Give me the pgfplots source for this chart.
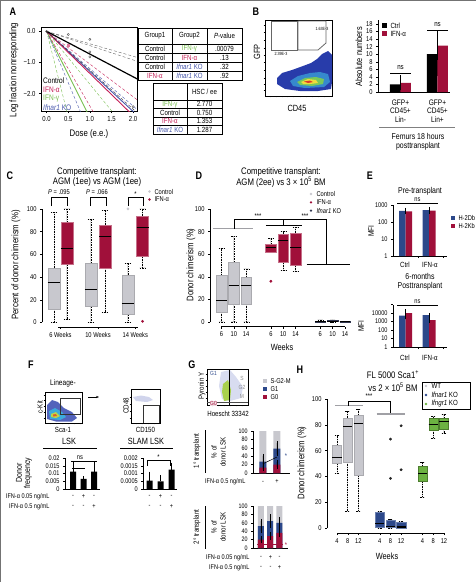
\documentclass[border=0pt]{standalone}
\usepackage{fontspec}
\setmainfont{Liberation Sans}[FakeStretch=0.82]
\usepackage{pgfplots}
\pgfplotsset{compat=1.18}
\usepgfplotslibrary{statistics}
\usetikzlibrary{arrows.meta}
\definecolor{cred}{RGB}{160,16,58}
\definecolor{cblue}{RGB}{44,72,138}
\definecolor{cgray}{RGB}{200,200,206}
\definecolor{cgreen}{RGB}{108,178,66}
\definecolor{cko}{RGB}{50,55,80}
\definecolor{agreen}{RGB}{120,190,80}
\definecolor{ared}{RGB}{196,30,86}
\definecolor{ablue}{RGB}{70,86,170}
\definecolor{fblue}{RGB}{40,60,170}
\definecolor{fcyan}{RGB}{60,170,220}
\definecolor{fgreen}{RGB}{120,200,90}
\definecolor{fyellow}{RGB}{240,220,60}
\definecolor{fred}{RGB}{220,60,40}
\newcommand{\fs}[1]{\fontsize{#1}{#1}\selectfont}
\pgfplotsset{
  every axis/.append style={scale only axis, tick align=outside,
    /pgf/number format/assume math mode=true, major tick length=2pt, scaled ticks=false,
    tick style={black,line width=0.4pt}, axis line style={line width=0.5pt}, clip=false, font=\fs{6.8}},
  pos/.style n args={4}{at={(#1pt,-#2pt)},anchor=south west,width=#3pt,height=#4pt},
  rax/.style={axis line style={draw=none}, xtick pos=left, ytick pos=left, ytick={0,20,40,60,80,100}, ymin=-4, ymax=104},
  boxplot/draw direction=y,
  boxplot/every whisker/.style={black, dash pattern=on 1.5pt off 1pt, line width=0.45pt},
  boxplot/every median/.style={black, line width=1.1pt},
  eb/.style={error bars/y dir=both, error bars/y explicit, error bars/error bar style={black, line width=0.4pt}, error bars/error mark options={black, mark size=1.8pt, line width=0.4pt}},
  ebp/.style={error bars/y dir=plus, error bars/y explicit, error bars/error bar style={black, line width=0.4pt}, error bars/error mark options={black, mark size=1.8pt, line width=0.4pt}},
  flow/.style={xticklabels={}, yticklabels={}, major tick length=1.3pt, xtick pos=left, ytick pos=left, axis line style={line width=0.5pt}},
}
\begin{document}
\begin{tikzpicture}
\path[use as bounding box] (0pt,0pt) rectangle (476pt,-582pt);
\draw[black!55, line width=1pt] (0pt,0pt) rectangle (476pt,-582pt);

% ================= A =================
\begin{axis}[pos={41}{111}{96}{84}, clip=true, font=\fs{7.3}, xmin=-0.13,xmax=2.09,ymin=-2.56,ymax=0.14,
  xtick={0,0.5,1,1.5,2}, xticklabels={0.0,0.5,1.0,1.5,2.0}, ytick={0,-1,-2}, yticklabels={0.0,−1.0,−2.0},
  xtick pos=left, ytick pos=left, axis line style={line width=0.6pt}]
\addplot[agreen, densely dashed, line width=0.4pt] coordinates {(0,0) (1,-5.5)};
\addplot[agreen, densely dashed, line width=0.4pt] coordinates {(0,0) (2,-3.4)};
\addplot[agreen, line width=0.9pt] coordinates {(0,0) (1,-2.77)};
\addplot[ablue, densely dashed, line width=0.4pt] coordinates {(0,0) (1,-3.3)};
\addplot[ablue, densely dashed, line width=0.4pt] coordinates {(0,0) (2.2,-2.64)};
\addplot[ablue, line width=0.9pt] coordinates {(0,0) (2.2,-2.83)};
\addplot[ared, densely dashed, line width=0.4pt] coordinates {(0,0) (1.2,-2.88)};
\addplot[ared, densely dashed, line width=0.4pt] coordinates {(0,0) (2.2,-2.31)};
\addplot[ared, line width=0.9pt] coordinates {(0,0) (2.2,-2.977)};
\addplot[black!60, densely dashed, line width=0.4pt] coordinates {(0,0) (2.2,-0.88)};
\addplot[black!60, densely dashed, line width=0.4pt] coordinates {(0,0) (2.2,-1.01)};
\addplot[black!80, densely dashed, line width=0.4pt] coordinates {(0,0) (2.2,-2.75)};
\addplot[black, line width=1.2pt] coordinates {(0,0) (2.2,-1.606)};
\addplot[only marks, mark=o, mark size=1.1pt, black!70] coordinates {(0.5,-0.1) (1,-0.26) (1,-0.66) (1,-0.82) (2,-2.42) (0,0)};
\addplot[only marks, mark=square*, mark size=0.8pt, ared!60] coordinates {(0.5,-0.45)};
\end{axis}

% ================= B flow =================
\begin{axis}[pos={265}{96}{67}{76}, flow, xmin=265,xmax=332,ymin=-96,ymax=-20,
  xtick={270,276,282,287,293,300,306,312,318,324}, ytick={-90,-84,-78,-70,-62,-55,-48,-40,-32,-25}]
\addplot[fill=fblue, draw=none] coordinates {(277,-78) (282,-73) (292,-70) (303,-66) (311,-63) (317,-59) (322,-54) (328,-51) (332,-55) (332,-70) (332,-82) (331,-89) (318,-91) (300,-91) (285,-89) (277,-84)} -- cycle;
\addplot[fill=fcyan!70!fblue, draw=none] coordinates {(290,-81) (298,-76) (310,-73) (320,-72) (328,-74) (330,-82) (324,-87) (305,-88) (293,-86)} -- cycle;
\addplot[fill=fgreen, draw=none] coordinates {(297,-82) (305,-78) (316,-77) (324,-79) (323,-84) (312,-86) (300,-85)} -- cycle;
\addplot[fill=fyellow, draw=none] coordinates {(301,-82) (308,-79) (316,-80) (318,-83) (310,-84) (303,-84)} -- cycle;
\addplot[fill=fred, draw=none] coordinates {(304,-81.5) (310,-80.5) (313,-82) (308,-83)} -- cycle;
\addplot[draw=black!60, line width=0.8pt] coordinates {(271,-21) (297,-21) (297,-50) (271,-50)} -- cycle;
\addplot[draw=black!60, line width=0.8pt] coordinates {(298,-21) (326,-21) (326,-43) (318,-50) (298,-50)} -- cycle;
\end{axis}

% ================= B bars =================
\begin{axis}[pos={378}{92}{72}{71.8}, ymin=0,ymax=19, xmin=0.392,xmax=2.338, axis x line*=bottom, axis y line*=left,
  ytick={0,2,...,18}, xtick=\empty, font=\fs{7}]
\addplot[ybar, bar width=10.5pt, bar shift=-5.25pt, fill=black, draw=none, eb] coordinates {(1,2.0) +- (0,1.8) (2,10.0) +- (0,5.3)};
\addplot[ybar, bar width=10.5pt, bar shift=5.25pt, fill=cred, draw=none, eb] coordinates {(1,2.4) +- (0,1.5) (2,12.3) +- (0,3.3)};
\end{axis}

% ================= C =================
\begin{axis}[pos={42}{327}{108}{122.6}, rax, xmin=0.111, xmax=8.11, xtick={1.48,4.26,7.02},
  xticklabels={6 Weeks,10 Weeks,14 Weeks}, font=\fs{7}]
\draw[line width=0.5pt] (axis cs:0.111,0) -- (axis cs:0.111,100);
\draw[line width=0.5pt] (axis cs:1.3,-4) -- (axis cs:7.2,-4);
\addplot[boxplot prepared={draw position=1, lower whisker=0, lower quartile=12, median=35, upper quartile=48, upper whisker=97, box extend=0.89, whisker extend=0.45}, fill=cgray, draw=cgray!85!black] coordinates {};
\addplot[boxplot prepared={draw position=1.96, lower whisker=3, lower quartile=51, median=65, upper quartile=88, upper whisker=100, box extend=0.89, whisker extend=0.45}, fill=cred, draw=cred!60!white] coordinates {};
\addplot[boxplot prepared={draw position=3.74, lower whisker=0, lower quartile=14, median=29, upper quartile=52, upper whisker=91, box extend=0.89, whisker extend=0.45}, fill=cgray, draw=cgray!85!black] coordinates {};
\addplot[boxplot prepared={draw position=4.78, lower whisker=9, lower quartile=48, median=76, upper quartile=86, upper whisker=99, box extend=0.89, whisker extend=0.45}, fill=cred, draw=cred!60!white] coordinates {};
\addplot[boxplot prepared={draw position=6.48, lower whisker=0, lower quartile=7, median=17, upper quartile=42, upper whisker=52, box extend=0.89, whisker extend=0.45}, fill=cgray, draw=cgray!85!black] coordinates {};
\addplot[boxplot prepared={draw position=7.56, lower whisker=48, lower quartile=58, median=84, upper quartile=94, upper whisker=100, box extend=0.89, whisker extend=0.45}, fill=cred, draw=cred!60!white] coordinates {};
\addplot[only marks, mark=*, mark size=1.2pt, cgray] coordinates {(6.48,100)};
\addplot[only marks, mark=*, mark size=1.2pt, cred] coordinates {(7.56,1)};
\end{axis}

% ================= D =================
\begin{axis}[pos={210}{326.5}{142}{122}, rax, xmin=0.07, xmax=11.57, xtick={1,2,3,5,6,7,9,10,11},
  xticklabels={6,10,14,6,10,14,6,10,14}, font=\fs{7}]
\draw[line width=0.5pt] (axis cs:0.07,0) -- (axis cs:0.07,100);
\draw[line width=0.5pt] (axis cs:1,-4) -- (axis cs:11,-4);
\addplot[boxplot prepared={draw position=1, lower whisker=0, lower quartile=9, median=19, upper quartile=41, upper whisker=65, box extend=0.85, whisker extend=0.42}, fill=cgray, draw=cgray!85!black] coordinates {};
\addplot[boxplot prepared={draw position=2, lower whisker=0, lower quartile=16, median=32, upper quartile=53, upper whisker=76, box extend=0.85, whisker extend=0.42}, fill=cgray, draw=cgray!85!black] coordinates {};
\addplot[boxplot prepared={draw position=3, lower whisker=0, lower quartile=16, median=32, upper quartile=39.5, upper whisker=47, box extend=0.85, whisker extend=0.42}, fill=cgray, draw=cgray!85!black] coordinates {};
\addplot[boxplot prepared={draw position=5, lower whisker=62, lower quartile=62, median=66, upper quartile=68.5, upper whisker=74, box extend=0.85, whisker extend=0.42}, fill=cred, draw=cred!60!white] coordinates {};
\addplot[boxplot prepared={draw position=6, lower whisker=45.7, lower quartile=52.5, median=72.3, upper quartile=77.3, upper whisker=80, box extend=0.85, whisker extend=0.42}, fill=cred, draw=cred!60!white] coordinates {};
\addplot[boxplot prepared={draw position=7, lower whisker=45, lower quartile=50, median=66, upper quartile=78.8, upper whisker=84, box extend=0.85, whisker extend=0.42}, fill=cred, draw=cred!60!white] coordinates {};
\addplot[boxplot prepared={draw position=9, lower whisker=0, lower quartile=0.2, median=0.5, upper quartile=1.0, upper whisker=1.8, box extend=0.85, whisker extend=0.42}, fill=cko, draw=cko] coordinates {};
\addplot[boxplot prepared={draw position=10, lower whisker=0, lower quartile=0.3, median=0.6, upper quartile=1.2, upper whisker=2, box extend=0.85, whisker extend=0.42}, fill=cko, draw=cko] coordinates {};
\addplot[boxplot prepared={draw position=11, lower whisker=0, lower quartile=0.1, median=0.3, upper quartile=0.5, upper whisker=0.8, box extend=0.85, whisker extend=0.42}, fill=cko, draw=cko] coordinates {};
\addplot[only marks, mark=*, mark size=1.2pt, cred] coordinates {(5,36)};
\draw[cgray!80!black, line width=1.1pt] (axis cs:0.31,82.6) -- (axis cs:3.55,82.6);
\draw[line width=0.6pt] (axis cs:2,82.6) -- (axis cs:2,90.6) -- (axis cs:9.5,90.6) -- (axis cs:9.5,50.8);
\draw[line width=0.6pt] (axis cs:6,90.6) -- (axis cs:6,86);
\draw[line width=0.6pt] (axis cs:4.6,86) -- (axis cs:7.5,86);
\draw[line width=0.6pt] (axis cs:7.9,50.8) -- (axis cs:11.4,50.8);
\node[font=\fs{7}] at (axis cs:3.95,93.5) {***};
\node[font=\fs{7}] at (axis cs:7.76,93.5) {***};
\end{axis}

% ================= E =================
\begin{axis}[pos={393}{256}{54}{51}, ymode=log, ymin=1, ymax=1000, xmin=0.468, xmax=2.766,
  axis x line*=bottom, axis y line*=left, ytick={1,10,100,1000}, yticklabels={1,10,100,1000}, yminorticks=false,
  xtick={1.55,2.6}, xticklabels={}, font=\fs{6.8}]
\addplot[ybar, bar width=6.5pt, bar shift=-3.25pt, fill=cblue, draw=none, eb] coordinates {(1,450) +- (0,90) (2,500) +- (0,110)};
\addplot[ybar, bar width=6.5pt, bar shift=3.25pt, fill=cred, draw=none, eb] coordinates {(1,420) +- (0,40) (2,460) +- (0,60)};
\end{axis}
\begin{axis}[pos={393}{347}{54}{42.5}, ymode=log, ymin=1, ymax=100000, xmin=0.468, xmax=2.766,
  axis x line*=bottom, axis y line*=left, ytick={1,10,100,1000,10000,100000}, yticklabels={1,10,100,1000,10000,}, yminorticks=false,
  xtick={1.55,2.6}, xticklabels={}, font=\fs{6.8}]
\addplot[ybar, bar width=6.5pt, bar shift=-3.25pt, fill=cblue, draw=none, eb] coordinates {(1,5000) +- (0,800) (2,5500) +- (0,700)};
\addplot[ybar, bar width=6.5pt, bar shift=3.25pt, fill=cred, draw=none, eb] coordinates {(1,10000) +- (0,7000) (2,1500) +- (0,300)};
\end{axis}

% ================= F flows =================
\begin{axis}[pos={45}{423}{37}{31}, flow, xmin=45,xmax=82,ymin=-423,ymax=-392,
  xtick={50,56,62,68,74,80}, ytick={-418,-412,-406,-400,-395}]
\addplot[fill=fblue!80, draw=none] coordinates {(47,-405) (52,-400) (58,-402) (64,-408) (72,-412) (77,-418) (72,-421.5) (56,-421.5) (47,-419)} -- cycle;
\addplot[fill=fcyan, draw=none] coordinates {(49,-411) (55,-408) (62,-412) (66,-417) (60,-420) (50,-419)} -- cycle;
\addplot[fill=fyellow!60!fgreen, draw=none] coordinates {(51,-414) (56,-412) (60,-416) (56,-418) (51,-417)} -- cycle;
\addplot[fill=fred!80!fyellow, draw=none] coordinates {(53,-414.5) (56,-414) (57,-416) (53,-416.5)} -- cycle;
\addplot[draw=black!80, line width=0.9pt] coordinates {(60,-398) (80,-398) (80,-414) (60,-414)} -- cycle;
\end{axis}
\begin{axis}[pos={131}{423}{29}{34}, flow, xmin=131,xmax=160,ymin=-423,ymax=-389,
  xtick={136,142,148,154}, ytick={-418,-411,-404,-397}]
\addplot[fill=fblue!22, draw=none] coordinates {(133,-397) (141,-395.5) (149,-397) (153,-400) (147,-402) (136,-401)} -- cycle;
\addplot[draw=black!80, line width=0.9pt] coordinates {(143,-423) (143,-405) (159,-405) (159,-423)};
\end{axis}

% ================= F bars =================
\begin{axis}[pos={65}{489}{35}{31}, ymin=0,ymax=0.02, xmin=0.238,xmax=3.57, axis x line*=bottom, axis y line*=left,
  ytick={0,0.005,0.01,0.015,0.02}, yticklabels={0,0.005,0.01,0.015,0.02}, xtick=\empty, font=\fs{6.8}]
\addplot[ybar, bar width=6pt, bar shift=0pt, fill=black, draw=none, ebp] coordinates {(1,0.0112) +- (0,0.0054) (2,0.0065) +- (0,0.0007) (3,0.0112) +- (0,0.0048)};
\end{axis}
\begin{axis}[pos={143.3}{489}{33.7}{31}, ymin=0,ymax=0.002, xmin=0.436,xmax=3.5, axis x line*=bottom, axis y line*=left,
  ytick={0,0.0005,0.001,0.0015,0.002}, yticklabels={0,0.0005,0.001,0.0015,0.002}, xtick=\empty, font=\fs{6.8}]
\addplot[ybar, bar width=6pt, bar shift=0pt, fill=black, draw=none, ebp] coordinates {(1,0.00054) +- (0,0.00047) (2,0.0005) +- (0,0.00029) (3,0.00125) +- (0,0.00034)};
\end{axis}

% ================= G flow =================
\begin{axis}[pos={207}{405}{41}{36}, flow, xmin=207,xmax=248,ymin=-405,ymax=-369,
  xtick={212,218,224,230,236,242}, ytick={-398,-392,-386,-380,-374}]
\addplot[fill=fblue!18, draw=none] coordinates {(221,-372) (230,-370) (236,-377) (243,-387) (241,-398) (230,-401) (222,-399) (219,-386)} -- cycle;
\addplot[fill=fgreen!60!fyellow, draw=none] coordinates {(223,-384) (228,-380) (231,-390) (230,-400) (224,-401) (222,-392)} -- cycle;
\addplot[black, line width=0.8pt] coordinates {(229,-405) (229,-369)};
\addplot[black!70, line width=0.8pt] coordinates {(207,-402) (248,-402)};
\end{axis}

% ================= G bars 1 =================
\begin{axis}[pos={253}{473}{37}{42}, ymin=0,ymax=100, xmin=0.286,xmax=2.93, axis x line*=bottom, axis y line*=left,
  ytick={0,20,...,100}, xtick=\empty, font=\fs{6.5}]
\addplot[ybar, bar width=7pt, bar shift=0pt, fill=cgray, draw=none] coordinates {(1,100) (2,100)};
\addplot[ybar, bar width=7pt, bar shift=0pt, fill=cblue, draw=none, eb] coordinates {(1,27) +- (0,14) (2,58) +- (0,13)};
\addplot[ybar, bar width=7pt, bar shift=0pt, fill=cred, draw=none, eb] coordinates {(1,13) +- (0,4) (2,20) +- (0,6)};
\addplot[black, line width=0.5pt] coordinates {(1,22) (2,38)};
\node[cblue, font=\fs{7}] at (axis cs:2.65,40) {*};
\end{axis}

% ================= G bars 2 =================
\begin{axis}[pos={253}{548}{35}{42}, ymin=0,ymax=100, xmin=0.135,xmax=3.92, axis x line*=bottom, axis y line*=left,
  ytick={0,20,...,100}, xtick=\empty, font=\fs{6.5}]
\addplot[ybar, bar width=6pt, bar shift=0pt, fill=cgray, draw=none] coordinates {(1,100) (2,100) (3,100)};
\addplot[ybar, bar width=6pt, bar shift=0pt, fill=cblue, draw=none, eb] coordinates {(1,52) +- (0,12) (2,64) +- (0,12) (3,60) +- (0,10)};
\addplot[ybar, bar width=6pt, bar shift=0pt, fill=cred, draw=none, eb] coordinates {(1,20) +- (0,4) (2,28) +- (0,5) (3,36) +- (0,6)};
\addplot[cred, line width=0.6pt] coordinates {(0.6,8) (3.4,8)};
\node[cred, font=\fs{7}] at (axis cs:3.7,6) {*};
\end{axis}

% ================= H =================
\begin{axis}[pos={327}{533.2}{128}{139.3}, rax, xmin=0.065, xmax=12.03, xtick={1,2,3,5,6,7,9,10,11},
  xticklabels={4,8,12,4,8,12,4,8,12}, font=\fs{7}]
\draw[line width=0.5pt] (axis cs:0.065,0) -- (axis cs:0.065,100);
\draw[line width=0.5pt] (axis cs:1,-4) -- (axis cs:11,-4);
\addplot[boxplot prepared={draw position=1, lower whisker=42.4, lower quartile=50.2, median=54.8, upper quartile=64.3, upper whisker=72, box extend=0.85, whisker extend=0.42}, fill=cgray, draw=cgray!85!black] coordinates {};
\addplot[boxplot prepared={draw position=2, lower whisker=13.2, lower quartile=51.4, median=78.5, upper quartile=85.5, upper whisker=90.7, box extend=0.85, whisker extend=0.42}, fill=cgray, draw=cgray!85!black] coordinates {};
\addplot[boxplot prepared={draw position=3, lower whisker=13, lower quartile=41, median=81, upper quartile=87.6, upper whisker=92, box extend=0.85, whisker extend=0.42}, fill=cgray, draw=cgray!85!black] coordinates {};
\addplot[boxplot prepared={draw position=5, lower whisker=0, lower quartile=1, median=3.6, upper quartile=12.2, upper whisker=13, box extend=0.85, whisker extend=0.42}, fill=cblue, draw=cblue!70!white] coordinates {};
\addplot[boxplot prepared={draw position=6, lower whisker=0, lower quartile=0.5, median=1, upper quartile=6.2, upper whisker=7, box extend=0.85, whisker extend=0.42}, fill=cblue, draw=cblue!70!white] coordinates {};
\addplot[boxplot prepared={draw position=7, lower whisker=0, lower quartile=0.2, median=0.8, upper quartile=4.4, upper whisker=5, box extend=0.85, whisker extend=0.42}, fill=cblue, draw=cblue!70!white] coordinates {};
\addplot[boxplot prepared={draw position=9, lower whisker=24, lower quartile=36.2, median=42.6, upper quartile=47.8, upper whisker=51, box extend=0.85, whisker extend=0.42}, fill=cgreen, draw=cgreen!70!black] coordinates {};
\addplot[boxplot prepared={draw position=10, lower whisker=69.8, lower quartile=76.2, median=80.1, upper quartile=85.3, upper whisker=86.6, box extend=0.85, whisker extend=0.42}, fill=cgreen, draw=cgreen!70!black] coordinates {};
\addplot[boxplot prepared={draw position=11, lower whisker=73.6, lower quartile=77, median=82.4, upper quartile=85.3, upper whisker=88.4, box extend=0.85, whisker extend=0.42}, fill=cgreen, draw=cgreen!70!black] coordinates {};
\addplot[only marks, mark=*, mark size=1.2pt, black!85] coordinates {(6,38.5) (6,69) (7,45.2) (7,79.3)};
\draw[cgray!80!black, line width=1.1pt] (axis cs:0.81,94.8) -- (axis cs:3.43,94.8);
\draw[line width=0.6pt] (axis cs:2.03,94.8) -- (axis cs:2.03,98.5) -- (axis cs:6,98.5) -- (axis cs:6,88.4);
\draw[cgray!80!black, line width=1.1pt] (axis cs:4.7,88.4) -- (axis cs:7.36,88.4);
\node[font=\fs{7}, anchor=south] at (axis cs:4.0,98) {***};
\end{axis}

% ================= annotations =================
\begin{scope}[x=1pt,y=-1pt]
\foreach \L/\X/\Y in {A/13/12, B/256/12, C/10/176, D/199/176, E/370/176, F/31/365, G/192/365, H/300/370}
  \node[font=\fs{11}\bfseries] at (\X,\Y) {\L};
% ---- A
\node[rotate=90, font=\fs{9.5}] at (14,70) {Log fraction nonresponding};
\node[font=\fs{9.5}] at (89,134) {Dose (e.e.)};
\node[anchor=west, font=\fs{8}, inner sep=0pt] at (43,81) {Control};
\node[anchor=west, font=\fs{8}, inner sep=0pt, ared] at (43,90) {IFN-α};
\node[anchor=west, font=\fs{8}, inner sep=0pt, agreen] at (43,99) {IFN-γ};
\node[anchor=west, font=\fs{8}, inner sep=0pt, ablue] at (43,108) {\textit{Ifnar1} KO};
\begin{scope}[font=\fs{7.5}]
\draw[line width=1pt] (138,28) rectangle (242,80);
\foreach \yy in {44,53,62,71} \draw[line width=0.5pt] (138,\yy) -- (242,\yy);
\draw[line width=0.5pt] (172,28) -- (172,80) (207,28) -- (207,80);
\node at (155,36) {Group1}; \node at (189.5,36) {Group2}; \node at (224.5,36) {\textit{P}-value};
\node at (155,48.5) {Control}; \node[agreen] at (189.5,48.5) {IFN-γ}; \node at (224.5,48.5) {.00079};
\node at (155,57.5) {Control}; \node[ared] at (189.5,57.5) {IFN-α}; \node at (224.5,57.5) {.13};
\node at (155,66.5) {Control}; \node[ablue] at (189.5,66.5) {\textit{Ifnar1} KO}; \node at (224.5,66.5) {.32};
\node[ared] at (155,75.5) {IFN-α}; \node[ablue] at (189.5,75.5) {\textit{Ifnar1} KO}; \node at (224.5,75.5) {.92};
\draw[line width=1pt] (153,83) rectangle (222,134);
\foreach \yy in {100,108.5,117,125.5} \draw[line width=0.5pt] (153,\yy) -- (222,\yy);
\draw[line width=0.5pt] (187,83) -- (187,134);
\node at (204.5,91.5) {HSC / ee};
\node[agreen] at (170,104.3) {IFN-γ}; \node at (204.5,104.3) {2.770};
\node at (170,112.8) {Control}; \node at (204.5,112.8) {0.750};
\node[ared] at (170,121.3) {IFN-α}; \node at (204.5,121.3) {1.353};
\node[ablue] at (170,129.8) {\textit{Ifnar1} KO}; \node at (204.5,129.8) {1.287};
\end{scope}
% ---- B
\node[rotate=90, font=\fs{9}] at (257,52) {GFP};
\node[font=\fs{9}] at (297,108) {CD45};
\node[font=\fs{4.5}] at (281,54) {2.39E-3};
\node[font=\fs{4.5}] at (322,29) {1.63E-3};
\node[rotate=90, font=\fs{9}] at (359,57) {Absolute numbers};
\fill[black] (382,23) rectangle (387,28);
\fill[cred] (382,31) rectangle (387,36);
\node[anchor=west, font=\fs{7.5}] at (387,25.5) {Ctrl};
\node[anchor=west, font=\fs{7.5}] at (387,33.5) {IFN-α};
\draw[line width=0.5pt] (390,73) -- (411,73);
\node[font=\fs{7.5}] at (400.5,68) {ns};
\draw[line width=0.5pt] (427,30) -- (448,30);
\node[font=\fs{7.5}] at (437.5,25) {ns};
\node[font=\fs{8}, align=center] at (400.5,111) {GFP+\\[0.5pt]CD45+\\[0.5pt]Lin-};
\node[font=\fs{8}, align=center] at (437.5,111) {GFP+\\[0.5pt]CD45+\\[0.5pt]Lin+};
\draw[black!50, line width=1pt] (379,127) -- (455,127);
\node[font=\fs{8.5}] at (418,136.5) {Femurs 18 hours};
\node[font=\fs{8.5}] at (418,146.5) {posttransplant};
% ---- C
\node[font=\fs{9.5}] at (97,172) {Competitive transplant:};
\node[font=\fs{9.5}] at (97,182.5) {AGM (1ee) vs AGM (1ee)};
\node[rotate=90, font=\fs{9.5}] at (16,265) {Percent of donor chimerism (\%)};
\fill[cgray] (149.5,191.5) circle (1.3pt);
\fill[cred] (149.5,199.5) circle (1.3pt);
\node[anchor=west, font=\fs{7}] at (151,191.5) {Control};
\node[anchor=west, font=\fs{7}] at (151,199.5) {IFN-α};
\draw[line width=0.5pt] (51,206) -- (51,197.5) -- (67,197.5) -- (67,206);
\node[font=\fs{7}] at (59,192.5) {\textit{P} = .095};
\draw[line width=0.5pt] (90,206) -- (90,197.5) -- (106,197.5) -- (106,206);
\node[font=\fs{7}] at (97,192.5) {\textit{P} = .066};
\draw[line width=0.5pt] (128,206) -- (128,197.5) -- (143,197.5) -- (143,206);
\node[font=\fs{7}] at (135.5,194) {*};
% ---- D
\node[font=\fs{9.5}] at (281,172) {Competitive transplant:};
\node[font=\fs{9.5}] at (281,182.5) {AGM (2ee) vs 3 × 10\textsuperscript{5} BM};
\node[rotate=90, font=\fs{9.5}] at (191,265) {Donor chimerism (\%)};
\fill[cgray] (311,194) circle (1.3pt);
\fill[cred] (311,202.3) circle (1.3pt);
\fill[cko] (311,210.6) circle (1.3pt);
\node[anchor=west, font=\fs{7}] at (313,194) {Control};
\node[anchor=west, font=\fs{7}] at (313,202.3) {IFN-α};
\node[anchor=west, font=\fs{7}] at (313,210.6) {\textit{Ifnar1} KO};
\node[font=\fs{9}] at (282,347) {Weeks};
% ---- E
\node[font=\fs{8.5}] at (420,191) {Pre-transplant};
\draw[line width=0.5pt] (397,203) -- (438,203);
\node[font=\fs{7}, inner sep=0.5pt] at (417.5,199.5) {ns};
\node[rotate=90, font=\fs{8}] at (371,231) {MFI};
\fill[cblue] (451,215.5) rectangle (455,219.5);
\fill[cred] (451,223.5) rectangle (455,227.5);
\node[anchor=west, font=\fs{7}] at (455,217.5) {H-2Db};
\node[anchor=west, font=\fs{7}] at (455,225.5) {H-2Kb};
\node[font=\fs{7.5}] at (405,264.5) {Ctrl};
\node[font=\fs{7.5}] at (430,264.5) {IFN-α};
\node[font=\fs{8.5}] at (420,276.5) {6-months};
\node[font=\fs{8.5}] at (420,286) {Posttransplant};
\draw[line width=0.5pt] (397,305.5) -- (438,305.5);
\node[font=\fs{7}, inner sep=0.5pt] at (417.5,302) {ns};
\node[rotate=90, font=\fs{8}] at (361,326) {MFI};
\node[font=\fs{7.5}] at (405,357.5) {Ctrl};
\node[font=\fs{7.5}] at (430,357.5) {IFN-α};
% ---- F
\node[font=\fs{8}] at (63,383) {Lineage-};
\node[rotate=90, font=\fs{7.5}] at (40,407) {c-Kit};
\node[font=\fs{7.5}] at (63,430) {Sca-1};
\draw[-{Stealth[length=3pt]}, line width=0.6pt] (88,397) -- (99,397);
\node[rotate=90, font=\fs{7.5}] at (126,406) {CD48};
\node[font=\fs{7.5}] at (145.5,430) {CD150};
\node[font=\fs{9}] at (69,441) {LSK};
\draw[line width=0.6pt] (43,448) -- (97,448);
\node[font=\fs{9}] at (146,441) {SLAM LSK};
\draw[line width=0.6pt] (120,448) -- (173,448);
\node[rotate=90, font=\fs{8.5}] at (19,473) {Donor};
\node[rotate=90, font=\fs{8.5}] at (28,473) {frequency};
\draw[line width=0.5pt] (71,461) -- (96.5,461);
\draw[line width=0.5pt] (72,468) -- (85,468);
\node[font=\fs{7}, inner sep=0.5pt] at (80,457.5) {ns};
\draw[line width=0.5pt] (147,466) -- (147,460) -- (170.5,460) -- (170.5,466);
\node[font=\fs{7}, inner sep=0.5pt] at (158.5,457.5) {*};
\node[anchor=east, font=\fs{6.8}] at (53,496.5) {IFN-α 0.05 ng/mL};
\node[anchor=east, font=\fs{6.8}] at (53,506.5) {IFN-α 0.5 ng/mL};
\foreach \xx/\s in {73/-, 83.5/+, 94/-, 149.5/-, 160.5/+, 171.5/-} \node[font=\fs{6.8}] at (\xx,496.5) {\s};
\foreach \xx/\s in {73/-, 83.5/-, 94/+, 149.5/-, 160.5/-, 171.5/+} \node[font=\fs{6.8}] at (\xx,506.5) {\s};
% ---- G
\node[rotate=90, font=\fs{7.5}] at (202,386) {Pyronin Y};
\node[font=\fs{7.5}] at (228,414) {Hoescht 33342};
\node[font=\fs{6}, cblue] at (213.5,373) {G1};
\node[font=\fs{6}, cred, fill=cred!15, inner sep=0.5pt] at (213.5,403.5) {G0};
\node[font=\fs{6}, black!45] at (242,378) {S};
\node[font=\fs{6}, black!45] at (242,387) {G2};
\node[font=\fs{6}, black!45] at (242,396) {M};
\fill[cgray] (263,379) rectangle (267,383);
\fill[cblue] (263,387) rectangle (267,391);
\fill[cred] (263,395) rectangle (267,399);
\node[anchor=west, font=\fs{7}] at (267,381) {S-G2-M};
\node[anchor=west, font=\fs{7}] at (267,389) {G1};
\node[anchor=west, font=\fs{7}] at (267,397) {G0};
\node[rotate=90, font=\fs{7.5}] at (197,451) {1° transplant};
\draw[line width=0.5pt] (205,430) -- (205,473);
\node[rotate=90, font=\fs{7.5}] at (214,452) {\% of};
\node[rotate=90, font=\fs{7.5}] at (223,452) {donor LSK};
\node[anchor=east, font=\fs{6.8}] at (249,482) {IFN-α 0.5 ng/mL};
\node[font=\fs{6.8}] at (263,482) {-};
\node[font=\fs{6.8}] at (277,482) {+};
\node[rotate=90, font=\fs{7.5}] at (197,527) {2° transplant};
\draw[line width=0.5pt] (205,506) -- (205,549);
\node[rotate=90, font=\fs{7.5}] at (214,527) {\% of};
\node[rotate=90, font=\fs{7.5}] at (223,527) {donor LSK};
\node[anchor=east, font=\fs{6.8}] at (253,557.5) {IFN-α 0.05 ng/mL};
\node[anchor=east, font=\fs{6.8}] at (253,567.5) {IFN-α 0.5 ng/mL};
\foreach \xx/\s in {261/-, 270.5/+, 279.5/-} \node[font=\fs{6.8}] at (\xx,557.5) {\s};
\foreach \xx/\s in {261/-, 270.5/-, 279.5/+} \node[font=\fs{6.8}] at (\xx,567.5) {\s};
% ---- H
\node[font=\fs{9.5}] at (393,375) {FL 5000 Sca1\textsuperscript{+}};
\node[font=\fs{9.5}] at (393,387) {vs 2 × 10\textsuperscript{5} BM};
\draw[line width=0.6pt] (422,382) rectangle (470,409);
\fill[cgray] (426,386) circle (1.3pt);
\fill[cblue] (426,395) circle (1.3pt);
\fill[cgreen] (426,404) circle (1.3pt);
\node[anchor=west, font=\fs{7.5}] at (428,386) {WT};
\node[anchor=west, font=\fs{7.5}] at (428,395) {\textit{Ifnar1} KO};
\node[anchor=west, font=\fs{7.5}] at (428,404) {\textit{Ifngr1} KO};
\node[rotate=90, font=\fs{9.5}] at (302,463) {Donor chimerism (\%)};
\node[font=\fs{9}] at (387,556) {Weeks};
\end{scope}
\end{tikzpicture}
\end{document}
